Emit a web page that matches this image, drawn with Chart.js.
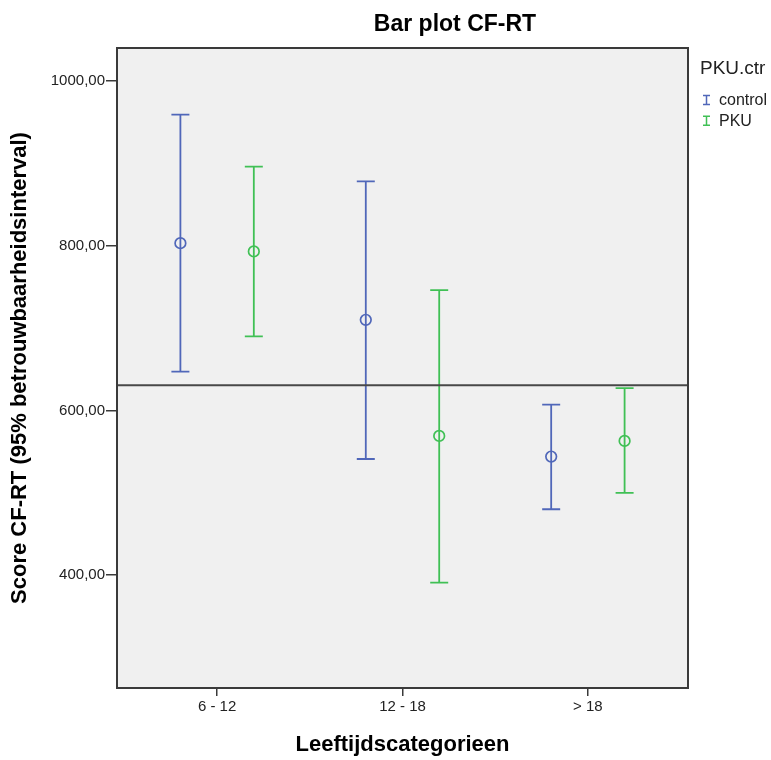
<!DOCTYPE html>
<html>
<head>
<meta charset="utf-8">
<script src="https://cdn.jsdelivr.net/npm/chart.js@4.4.0/dist/chart.umd.min.js"></script>
<style>
  html, body { margin: 0; padding: 0; background: #fff; }
</style>
</head>
<body>
<canvas id="cfrt" width="771" height="760"></canvas>
<script>
// values
const categories = ['6 - 12', '12 - 18', '> 18']
const controlMean = [803, 710, 544]
const controlLower = [647, 541, 480]
const controlUpper = [959, 878, 607]
const pkuMean = [793, 569, 563]
const pkuLower = [690, 391, 500]
const pkuUpper = [896, 746, 627]
const referenceLine = 630.5
const yTicks = [400, 600, 800, 1000]

const chartTitle = 'Bar plot CF-RT'
const legendTitle = 'PKU.ctr'

const blue = '#5067b9'
const green = '#40c055'
const dodge = 0.198
const font = "'Liberation Sans', Arial, sans-serif"

const drawBar = (ctx, x, top, bot, half) => {
    ctx.beginPath()
    ctx.moveTo(x, top); ctx.lineTo(x, bot)
    ctx.moveTo(x - half, top); ctx.lineTo(x + half, top)
    ctx.moveTo(x - half, bot); ctx.lineTo(x + half, bot)
    ctx.stroke()
}

const errorBars = {
    id: 'errorBars',
    beforeDraw(chart) {
        const {ctx, chartArea: a} = chart
        ctx.save()
        ctx.fillStyle = '#f0f0f0'
        ctx.fillRect(a.left, a.top, a.width, a.height)
        ctx.restore()
    },
    beforeDatasetsDraw(chart) {
        const {ctx} = chart
        const y = chart.scales.y
        chart.data.datasets.forEach((ds, di) => {
            const meta = chart.getDatasetMeta(di)
            ctx.save()
            ctx.strokeStyle = ds.borderColor
            ctx.lineWidth = 1.8
            meta.data.forEach((pt, i) => {
                drawBar(ctx, pt.x, y.getPixelForValue(ds.upper[i]), y.getPixelForValue(ds.lower[i]), 9)
            })
            ctx.restore()
        })
    },
    afterDatasetsDraw(chart) {
        const {ctx, chartArea: a} = chart
        const ry = chart.scales.y.getPixelForValue(referenceLine)
        ctx.save()
        ctx.strokeStyle = '#484848'
        ctx.lineWidth = 2
        ctx.beginPath()
        ctx.moveTo(a.left, ry); ctx.lineTo(a.right, ry)
        ctx.stroke()
        ctx.restore()
    },
    afterDraw(chart) {
        const {ctx, chartArea: a} = chart
        ctx.save()
        ctx.strokeStyle = '#3a3a3a'
        ctx.lineWidth = 2
        ctx.strokeRect(a.left, a.top, a.width, a.height)

        // title, sits a bit right of the plot centre like in SPSS
        ctx.fillStyle = '#000'
        ctx.textAlign = 'center'
        ctx.textBaseline = 'alphabetic'
        ctx.font = `bold 23px ${font}`
        ctx.fillText(chartTitle, 455, 31)

        // legend on the right
        ctx.textAlign = 'left'
        ctx.textBaseline = 'middle'
        ctx.fillStyle = '#222'
        ctx.font = `19px ${font}`
        ctx.fillText(legendTitle, a.right + 12, a.top + 21)
        ctx.font = `16px ${font}`
        chart.data.datasets.forEach((ds, i) => {
            const ly = a.top + 52 + i * 20.7
            ctx.strokeStyle = ds.borderColor
            ctx.lineWidth = 1.5
            drawBar(ctx, a.right + 18.5, ly - 4.5, ly + 4.5, 3.5)
            ctx.fillStyle = '#222'
            ctx.fillText(ds.label, a.right + 31, ly + 1)
        })
        ctx.restore()
    }
}

const makeSet = (label, mean, lower, upper, color, shift) => ({
    label: label,
    data: mean.map((m, i) => ({x: i + shift, y: m})),
    lower: lower,
    upper: upper,
    borderColor: color,
    backgroundColor: 'rgba(0,0,0,0)',
    pointStyle: 'circle',
    pointRadius: 5.3,
    pointHoverRadius: 5.3,
    pointBorderWidth: 1.7,
    showLine: false
})

new Chart(document.getElementById('cfrt'), {
    type: 'scatter',
    data: {
        datasets: [
            makeSet('control', controlMean, controlLower, controlUpper, blue, -dodge),
            makeSet('PKU', pkuMean, pkuLower, pkuUpper, green, dodge)
        ]
    },
    options: {
        responsive: false,
        animation: false,
        layout: {padding: {left: 0, right: 83, top: 48, bottom: 0}},
        plugins: {
            tooltip: {enabled: false},
            legend: {display: false},
            title: {display: false}
        },
        scales: {
            x: {
                type: 'linear',
                min: -0.54,
                max: 2.54,
                afterBuildTicks: s => { s.ticks = categories.map((c, i) => ({value: i})) },
                afterFit: s => { s.height = 72 },
                border: {display: false},
                grid: {drawOnChartArea: false, color: '#3a3a3a', lineWidth: 1.5, tickLength: 8},
                ticks: {
                    color: '#222',
                    font: {family: font, size: 15},
                    padding: 2,
                    autoSkip: false,
                    maxRotation: 0,
                    callback: v => categories[v]
                },
                title: {
                    display: true,
                    text: 'Leeftijdscategorieen',
                    color: '#000',
                    font: {family: font, size: 22, weight: 'bold'},
                    padding: {top: 2, bottom: 2}
                }
            },
            y: {
                min: 263,
                max: 1040,
                afterBuildTicks: s => { s.ticks = yTicks.map(v => ({value: v})) },
                afterFit: s => { s.width = 117 },
                border: {display: false},
                grid: {drawOnChartArea: false, color: '#3a3a3a', lineWidth: 1.5, tickLength: 11},
                ticks: {
                    color: '#222',
                    font: {family: font, size: 15},
                    padding: 1,
                    callback: v => v.toFixed(2).replace('.', ',')
                },
                title: {
                    display: true,
                    text: 'Score CF-RT (95% betrouwbaarheidsinterval)',
                    color: '#000',
                    font: {family: font, size: 22, weight: 'bold'},
                    padding: {top: 7, bottom: 2}
                }
            }
        }
    },
    plugins: [errorBars]
})
</script>
</body>
</html>
